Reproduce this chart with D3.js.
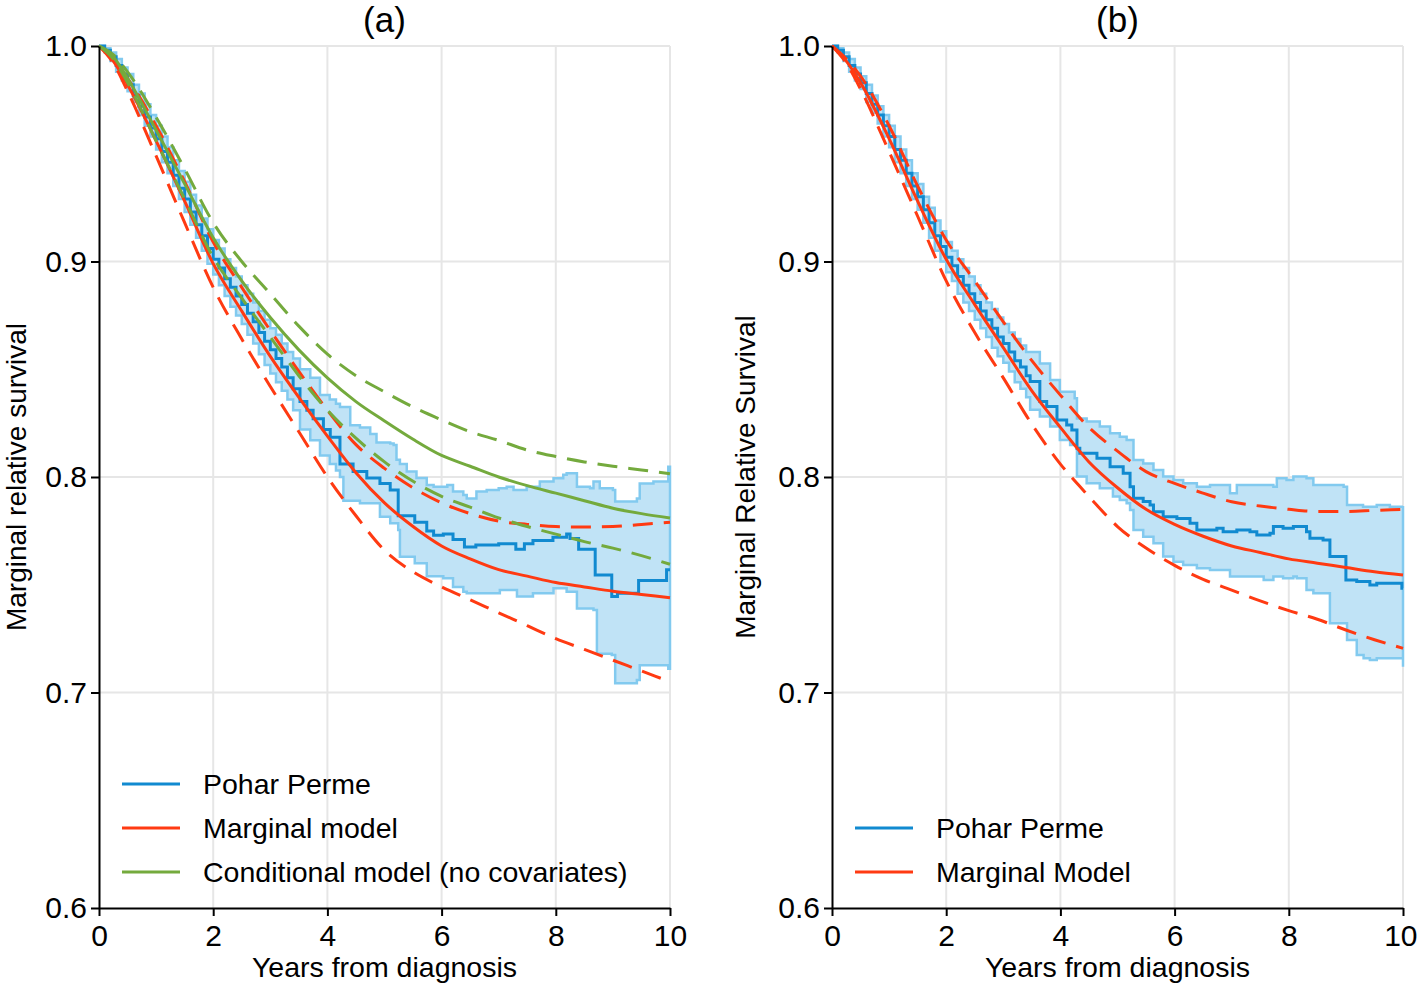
<!DOCTYPE html>
<html>
<head>
<meta charset="utf-8">
<script src="https://cdn.jsdelivr.net/npm/d3@7"></script>
<style>
  html, body { margin: 0; padding: 0; background: #ffffff; }
  svg { display: block; }
  text { font-family: "Liberation Sans", Arial, Helvetica, sans-serif; }
</style>
</head>
<body>
<svg id="chart" width="1418" height="983"></svg>
<script>
// ---------------- DATA ----------------
const modelTimes = [0,0.25,0.5,1,1.5,2,2.5,3,3.5,4,4.5,5,5.5,6,6.5,7,7.5,8,8.5,9,9.5,10];
const xTicks = [0,2,4,6,8,10];
const yTicks = [0.6,0.7,0.8,0.9,1.0];

// Panel (a): marginal model (red)
const margA    = [1.000,0.993,0.982,0.956,0.928,0.899,0.877,0.856,0.837,0.819,0.802,0.788,0.777,0.768,0.762,0.757,0.754,0.751,0.749,0.747,0.7455,0.744];
const margAHi  = [1.000,0.994,0.985,0.963,0.937,0.909,0.888,0.868,0.849,0.831,0.815,0.804,0.795,0.788,0.783,0.7795,0.778,0.777,0.7768,0.777,0.778,0.779];
const margALo  = [1.000,0.992,0.979,0.949,0.918,0.888,0.864,0.842,0.821,0.800,0.782,0.766,0.756,0.749,0.743,0.737,0.731,0.725,0.720,0.715,0.710,0.705];
// Panel (a): conditional model (green)
const condA    = [1.000,0.995,0.985,0.961,0.936,0.911,0.891,0.874,0.859,0.846,0.835,0.826,0.8175,0.810,0.805,0.800,0.796,0.7925,0.789,0.7855,0.783,0.781];
const condAHi  = [1.000,0.996,0.988,0.967,0.943,0.918,0.900,0.885,0.870,0.857,0.847,0.8395,0.8325,0.8265,0.821,0.817,0.8125,0.8095,0.807,0.805,0.8033,0.8015];
const condALo  = [1.000,0.994,0.983,0.956,0.929,0.902,0.883,0.865,0.847,0.831,0.818,0.807,0.798,0.791,0.786,0.781,0.777,0.7735,0.770,0.767,0.7635,0.7595];

// Panel (a): Pohar Perme estimate (steps) [time, value]
const ppA = [[0,1.000],[0.1,0.998],[0.2,0.995],[0.3,0.991],[0.4,0.987],[0.5,0.982],[0.6,0.977],[0.7,0.972],[0.8,0.967],[0.9,0.962],[1.0,0.957],[1.1,0.951],[1.2,0.946],[1.3,0.940],[1.4,0.934],[1.5,0.929],[1.6,0.923],[1.7,0.917],[1.8,0.912],[1.9,0.906],[2.0,0.901],[2.1,0.897],[2.2,0.892],[2.3,0.888],[2.4,0.884],[2.5,0.880],[2.6,0.876],[2.7,0.872],[2.8,0.867],[2.9,0.863],[3.0,0.859],[3.1,0.855],[3.2,0.851],[3.3,0.846],[3.4,0.841],[3.52,0.835],[3.64,0.831],[3.75,0.827],[3.93,0.822],[4.05,0.8185],[4.22,0.806],[4.45,0.8025],[4.69,0.7995],[4.92,0.797],[5.1,0.794],[5.24,0.782],[5.53,0.779],[5.74,0.775],[5.86,0.773],[6.03,0.7735],[6.2,0.771],[6.4,0.7675],[6.6,0.7685],[7.0,0.769],[7.3,0.7665],[7.45,0.769],[7.6,0.7705],[7.95,0.772],[8.19,0.7735],[8.25,0.7715],[8.4,0.7665],[8.69,0.7545],[8.98,0.7445],[9.08,0.746],[9.45,0.752],[9.94,0.757],[10.0,0.757]];
const ppAHi = [[0,1.000],[0.1,0.999],[0.2,0.997],[0.3,0.994],[0.4,0.990],[0.5,0.987],[0.6,0.982],[0.7,0.978],[0.8,0.973],[0.9,0.968],[1.0,0.963],[1.1,0.958],[1.2,0.953],[1.3,0.947],[1.4,0.942],[1.5,0.937],[1.6,0.931],[1.7,0.926],[1.8,0.920],[1.9,0.915],[2.0,0.910],[2.1,0.906],[2.2,0.901],[2.3,0.897],[2.4,0.893],[2.5,0.889],[2.6,0.885],[2.7,0.881],[2.8,0.877],[2.9,0.873],[3.0,0.869],[3.1,0.866],[3.2,0.862],[3.3,0.858],[3.4,0.855],[3.52,0.850],[3.7,0.846],[3.87,0.838],[4.04,0.836],[4.15,0.834],[4.22,0.8325],[4.40,0.824],[4.57,0.823],[4.75,0.820],[4.86,0.816],[5.1,0.8155],[5.16,0.8148],[5.21,0.808],[5.27,0.806],[5.39,0.8025],[5.56,0.7995],[5.74,0.7963],[5.86,0.7955],[6.1,0.7963],[6.2,0.7933],[6.38,0.7917],[6.44,0.790],[6.61,0.7933],[6.79,0.7940],[7.0,0.7948],[7.14,0.7955],[7.26,0.794],[7.49,0.7955],[7.72,0.7979],[7.96,0.7994],[8.13,0.8010],[8.19,0.8017],[8.37,0.7955],[8.6,0.7948],[8.66,0.7979],[8.77,0.7948],[9.0,0.794],[9.04,0.7886],[9.42,0.790],[9.47,0.797],[9.71,0.7979],[9.97,0.8048],[10.0,0.8048]];
const ppALo = [[0,1.000],[0.1,0.997],[0.2,0.993],[0.3,0.988],[0.4,0.984],[0.5,0.979],[0.6,0.974],[0.7,0.968],[0.8,0.963],[0.9,0.958],[1.0,0.952],[1.1,0.946],[1.2,0.941],[1.3,0.935],[1.4,0.929],[1.5,0.923],[1.6,0.917],[1.7,0.911],[1.8,0.905],[1.9,0.899],[2.0,0.894],[2.1,0.889],[2.2,0.884],[2.3,0.879],[2.4,0.875],[2.5,0.871],[2.6,0.866],[2.7,0.862],[2.8,0.857],[2.9,0.852],[3.0,0.848],[3.1,0.844],[3.2,0.840],[3.3,0.836],[3.4,0.831],[3.52,0.822],[3.7,0.817],[3.87,0.810],[4.04,0.806],[4.15,0.803],[4.22,0.800],[4.28,0.789],[4.57,0.7878],[4.92,0.7816],[5.1,0.7785],[5.24,0.7754],[5.27,0.763],[5.53,0.760],[5.74,0.754],[6.03,0.7530],[6.2,0.749],[6.38,0.7468],[6.44,0.746],[7.02,0.7476],[7.32,0.7445],[7.6,0.746],[7.96,0.7484],[8.19,0.7468],[8.37,0.739],[8.66,0.7383],[8.72,0.718],[8.98,0.7174],[9.04,0.7043],[9.42,0.7058],[9.47,0.7127],[9.97,0.711],[10.0,0.711]];

// Panel (b): marginal model (red)
const margB    = [1.000,0.993,0.983,0.957,0.928,0.901,0.880,0.860,0.840,0.823,0.807,0.795,0.785,0.778,0.7725,0.768,0.765,0.762,0.760,0.758,0.756,0.7545];
const margBHi  = [1.000,0.994,0.986,0.963,0.935,0.910,0.891,0.872,0.854,0.838,0.823,0.812,0.8025,0.797,0.7925,0.7885,0.7865,0.785,0.784,0.784,0.7845,0.785];
const margBLo  = [1.000,0.992,0.980,0.951,0.921,0.891,0.867,0.846,0.8245,0.806,0.791,0.777,0.767,0.759,0.7525,0.7475,0.7425,0.738,0.734,0.729,0.7245,0.7205];

// Panel (b): Pohar Perme estimate
const ppB = [[0,1.000],[0.1,0.998],[0.2,0.995],[0.3,0.991],[0.4,0.987],[0.5,0.983],[0.6,0.978],[0.7,0.973],[0.8,0.968],[0.9,0.963],[1.0,0.958],[1.1,0.952],[1.2,0.947],[1.3,0.941],[1.4,0.935],[1.5,0.930],[1.6,0.924],[1.7,0.918],[1.8,0.912],[1.9,0.907],[2.0,0.902],[2.1,0.898],[2.2,0.893],[2.3,0.889],[2.4,0.885],[2.5,0.881],[2.6,0.877],[2.7,0.873],[2.8,0.869],[2.9,0.865],[3.0,0.862],[3.1,0.858],[3.2,0.854],[3.3,0.851],[3.4,0.847],[3.47,0.8443],[3.64,0.835],[3.76,0.8327],[3.94,0.8265],[4.11,0.8241],[4.2,0.8218],[4.29,0.8133],[4.34,0.811],[4.64,0.8087],[4.87,0.8048],[5.1,0.8017],[5.22,0.7955],[5.28,0.7901],[5.45,0.7886],[5.57,0.787],[5.63,0.7839],[5.8,0.7816],[6.04,0.7808],[6.27,0.7785],[6.39,0.7754],[6.74,0.7762],[6.85,0.7746],[7.09,0.7754],[7.32,0.7746],[7.44,0.7731],[7.67,0.7739],[7.73,0.777],[7.9,0.7762],[8.08,0.777],[8.31,0.7746],[8.37,0.7716],[8.6,0.7708],[8.72,0.7631],[9.0,0.7522],[9.19,0.7515],[9.42,0.7499],[9.54,0.7507],[9.98,0.7484],[10.0,0.7484]];
const ppBHi = [[0,1.000],[0.1,0.999],[0.2,0.997],[0.3,0.994],[0.4,0.990],[0.5,0.986],[0.6,0.982],[0.7,0.977],[0.8,0.972],[0.9,0.968],[1.0,0.963],[1.1,0.958],[1.2,0.952],[1.3,0.947],[1.4,0.941],[1.5,0.936],[1.6,0.930],[1.7,0.925],[1.8,0.919],[1.9,0.914],[2.0,0.909],[2.1,0.905],[2.2,0.901],[2.3,0.897],[2.4,0.893],[2.5,0.889],[2.6,0.885],[2.7,0.881],[2.8,0.878],[2.9,0.874],[3.0,0.871],[3.1,0.867],[3.2,0.864],[3.3,0.861],[3.4,0.858],[3.64,0.8527],[3.82,0.845],[3.99,0.8396],[4.25,0.8365],[4.29,0.8272],[4.46,0.8257],[4.69,0.8234],[4.87,0.8203],[5.04,0.8187],[5.16,0.8172],[5.28,0.8079],[5.45,0.8063],[5.63,0.8033],[5.8,0.8002],[5.98,0.7986],[6.15,0.7971],[6.39,0.7955],[6.62,0.7963],[6.97,0.7925],[7.09,0.7963],[7.73,0.7955],[7.79,0.7994],[7.96,0.7986],[8.08,0.8002],[8.31,0.7994],[8.43,0.7963],[8.96,0.7955],[9.02,0.787],[9.3,0.7862],[9.54,0.787],[9.77,0.7862],[10.0,0.7865]];
const ppBLo = [[0,1.000],[0.1,0.997],[0.2,0.993],[0.3,0.988],[0.4,0.984],[0.5,0.980],[0.6,0.974],[0.7,0.969],[0.8,0.964],[0.9,0.958],[1.0,0.953],[1.1,0.946],[1.2,0.941],[1.3,0.935],[1.4,0.929],[1.5,0.924],[1.6,0.918],[1.7,0.911],[1.8,0.905],[1.9,0.900],[2.0,0.895],[2.1,0.891],[2.2,0.885],[2.3,0.881],[2.4,0.877],[2.5,0.873],[2.6,0.869],[2.7,0.865],[2.8,0.860],[2.9,0.856],[3.0,0.853],[3.1,0.849],[3.2,0.844],[3.3,0.841],[3.4,0.837],[3.47,0.8312],[3.64,0.8281],[3.82,0.8234],[3.99,0.8172],[4.17,0.8149],[4.29,0.8002],[4.46,0.7971],[4.69,0.7948],[4.92,0.7909],[5.04,0.7893],[5.16,0.7878],[5.22,0.7847],[5.28,0.7754],[5.45,0.7723],[5.63,0.7692],[5.8,0.7631],[5.98,0.7607],[6.15,0.7592],[6.39,0.7576],[6.62,0.7569],[6.97,0.7538],[7.32,0.7538],[7.56,0.7522],[7.73,0.7538],[7.9,0.753],[8.08,0.7538],[8.14,0.753],[8.31,0.7476],[8.43,0.746],[8.72,0.7321],[9.02,0.7244],[9.19,0.7174],[9.31,0.7159],[9.42,0.7151],[9.54,0.7159],[9.77,0.7159],[10.0,0.7120]];

const legendA = ["Pohar Perme", "Marginal model", "Conditional model (no covariates)"];
const legendB = ["Pohar Perme", "Marginal Model"];

// ---------------- STYLE ----------------
const COL_BLUE = "#118ad0";
const COL_BAND = "#c0e3f6";
const COL_BAND_EDGE = "#82caef";
const COL_RED = "#ff3a12";
const COL_GREEN = "#74aa3d";
const COL_GRID = "#e6e6e6";
const DASH = "20,11";
const FONT = 28.5;
const TICK_FONT = 30;
const SVG_W = 1418;

const svg = d3.select("#chart");
const Y_TOP = 46, Y_BOT = 908;

function zip(ts, vs) { return ts.map((t, i) => [t, vs[i]]); }

function drawPanel(cfg) {
  const x = d3.scaleLinear().domain([0, 10]).range([cfg.x0, cfg.x1]);
  const y = d3.scaleLinear().domain([0.6, 1.0]).range([Y_BOT, Y_TOP]);
  const g = svg.append("g");

  // grid
  g.append("g").selectAll("line").data(xTicks.filter(d => d > 0)).join("line")
    .attr("x1", d => x(d)).attr("x2", d => x(d))
    .attr("y1", Y_TOP).attr("y2", Y_BOT)
    .attr("stroke", COL_GRID).attr("stroke-width", 2);
  g.append("g").selectAll("line").data(yTicks.filter(d => d > 0.6)).join("line")
    .attr("x1", cfg.x0).attr("x2", cfg.x1)
    .attr("y1", d => y(d)).attr("y2", d => y(d))
    .attr("stroke", COL_GRID).attr("stroke-width", 2);

  // CI band for Pohar Perme
  const stepUp = d3.line().x(d => x(d[0])).y(d => y(d[1])).curve(d3.curveStepAfter);
  const stepBack = d3.line().x(d => x(d[0])).y(d => y(d[1])).curve(d3.curveStepBefore);
  const upPath = stepUp(cfg.ppHi);
  const loPath = stepBack(cfg.ppLo.slice().reverse());
  g.append("path")
    .attr("d", upPath + loPath.replace(/^M/, "L") + "Z")
    .attr("fill", COL_BAND).attr("stroke", COL_BAND_EDGE)
    .attr("stroke-width", 2.5).attr("stroke-linejoin", "miter");

  // PP estimate
  g.append("path").attr("d", stepUp(cfg.pp))
    .attr("fill", "none").attr("stroke", COL_BLUE).attr("stroke-width", 3);

  // smooth model curves
  const smooth = d3.line().x(d => x(d[0])).y(d => y(d[1])).curve(d3.curveMonotoneX);
  cfg.models.forEach(m => {
    g.append("path").attr("d", smooth(zip(modelTimes, m.values)))
      .attr("fill", "none").attr("stroke", m.color).attr("stroke-width", 3)
      .attr("stroke-dasharray", m.dashed ? DASH : null);
  });

  // axes
  const yAxis = d3.axisLeft(y).tickValues(yTicks).tickFormat(d3.format(".1f"))
    .tickSize(8).tickSizeOuter(0).tickPadding(4);
  const xAxis = d3.axisBottom(x).tickValues(xTicks).tickFormat(d3.format("d"))
    .tickSize(8).tickSizeOuter(0).tickPadding(9);
  const ya = g.append("g").attr("transform", `translate(${cfg.x0},0)`).call(yAxis);
  const xa = g.append("g").attr("transform", `translate(0,${Y_BOT})`).call(xAxis);
  [ya, xa].forEach(a => {
    a.attr("font-family", null).attr("font-size", null);
    a.select(".domain").attr("stroke", "#000").attr("stroke-width", 2);
    a.selectAll(".tick line").attr("stroke", "#000").attr("stroke-width", 2);
    a.selectAll(".tick text").attr("fill", "#000")
      .style("font-size", TICK_FONT + "px").style("font-family", '"Liberation Sans", Arial, sans-serif');
  });
  // keep the last x tick label inside the picture
  xa.selectAll(".tick text").each(function (d) {
    const bb = this.getBBox();
    const cx = x(d);
    const over = cx + bb.width / 2 - (SVG_W - 1);
    if (over > 0) d3.select(this).attr("dx", -over);
  });

  // titles
  g.append("text").attr("x", (cfg.x0 + cfg.x1) / 2).attr("y", 32)
    .attr("text-anchor", "middle").style("font-size", "35px").text(cfg.title);
  g.append("text").attr("x", (cfg.x0 + cfg.x1) / 2).attr("y", 977)
    .attr("text-anchor", "middle").style("font-size", FONT + "px").text("Years from diagnosis");
  g.append("text")
    .attr("transform", `translate(${cfg.yLabelX},${(Y_TOP + Y_BOT) / 2}) rotate(-90)`)
    .attr("text-anchor", "middle").style("font-size", "28px").text(cfg.yLabel);

  // legend
  const lg = g.append("g");
  cfg.legend.forEach((item, i) => {
    const yy = cfg.legendY + i * 44;
    lg.append("line").attr("x1", cfg.x0 + 23).attr("x2", cfg.x0 + 81)
      .attr("y1", yy).attr("y2", yy).attr("stroke", item.color).attr("stroke-width", 3);
    lg.append("text").attr("x", cfg.x0 + 104).attr("y", yy + 10)
      .style("font-size", FONT + "px").text(item.label);
  });
}

drawPanel({
  x0: 99, x1: 670, title: "(a)", yLabel: "Marginal relative survival", yLabelX: 26,
  pp: ppA, ppHi: ppAHi, ppLo: ppALo,
  models: [
    { values: margALo, color: COL_RED, dashed: true },
    { values: margAHi, color: COL_RED, dashed: true },
    { values: margA, color: COL_RED, dashed: false },
    { values: condALo, color: COL_GREEN, dashed: true },
    { values: condAHi, color: COL_GREEN, dashed: true },
    { values: condA, color: COL_GREEN, dashed: false }
  ],
  legendY: 784,
  legend: [
    { label: legendA[0], color: COL_BLUE },
    { label: legendA[1], color: COL_RED },
    { label: legendA[2], color: COL_GREEN }
  ]
});

drawPanel({
  x0: 832, x1: 1403, title: "(b)", yLabel: "Marginal Relative Survival", yLabelX: 755,
  pp: ppB, ppHi: ppBHi, ppLo: ppBLo,
  models: [
    { values: margBLo, color: COL_RED, dashed: true },
    { values: margBHi, color: COL_RED, dashed: true },
    { values: margB, color: COL_RED, dashed: false }
  ],
  legendY: 828,
  legend: [
    { label: legendB[0], color: COL_BLUE },
    { label: legendB[1], color: COL_RED }
  ]
});
</script>
</body>
</html>
